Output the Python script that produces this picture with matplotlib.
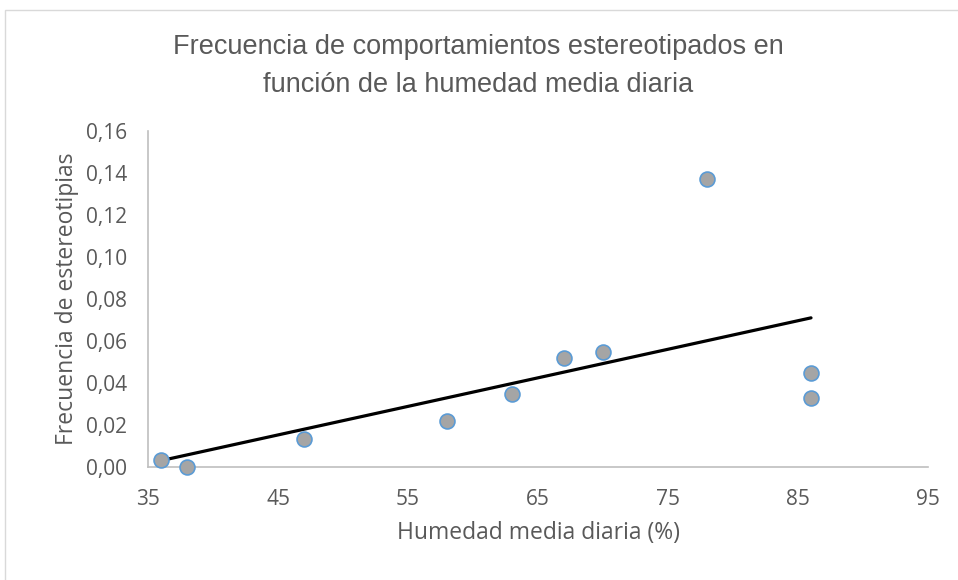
import matplotlib
matplotlib.use("Agg")
import matplotlib.pyplot as plt
from matplotlib.patches import Rectangle
from matplotlib.ticker import FuncFormatter
import numpy as np

# Humedad media diaria (%) y frecuencia de estereotipias
humedad = [36, 38, 47, 58, 63, 67, 70, 78, 86, 86]
frecuencia = [0.0035, 0.0002, 0.0135, 0.022, 0.035, 0.052, 0.055, 0.137, 0.045, 0.033]

x_ticks = [35, 45, 55, 65, 75, 85, 95]
y_ticks = [0.00, 0.02, 0.04, 0.06, 0.08, 0.10, 0.12, 0.14, 0.16]

titulo = ['Frecuencia de comportamientos estereotipados en',
          'función de la humedad media diaria']

plt.rcParams['font.family'] = ['Open Sans', 'DejaVu Sans']
text_color = '#595959'
axis_color = '#BFBFBF'

fig = plt.figure(figsize=(9.58, 5.8), dpi=100)
fig.patches.append(Rectangle((0.005, -0.05), 1.1, 1.033, transform=fig.transFigure,
                             fill=False, edgecolor='#D9D9D9', linewidth=1.0))
ax = fig.add_axes([0.1545, 0.1948, 0.8142, 0.5793])

# linear trendline (least squares)
slope, intercept = np.polyfit(humedad, frecuencia, 1)
xs = np.array([min(humedad), max(humedad)])
ax.plot(xs, slope * xs + intercept, color='black', linewidth=2.3, zorder=2,
        solid_capstyle='round')

ax.scatter(humedad, frecuencia, s=115, facecolor='#A5A5A5', edgecolor='#5B9BD5',
           linewidth=1.2, zorder=3, clip_on=False)

ax.set_xlim(35, 95)
ax.set_ylim(0, 0.16)
ax.set_xticks(x_ticks)
ax.set_yticks(y_ticks)
ax.yaxis.set_major_formatter(FuncFormatter(lambda v, p: f"{v:.2f}".replace('.', ',')))

for side in ['top', 'right']:
    ax.spines[side].set_visible(False)
for side in ['left', 'bottom']:
    ax.spines[side].set_color(axis_color)
    ax.spines[side].set_linewidth(1.2)
ax.tick_params(length=0, colors=text_color, labelsize=15)
ax.tick_params(axis='x', pad=16)
ax.tick_params(axis='y', pad=15)

ax.set_xlabel('Humedad media diaria (%)', color=text_color, fontsize=16.5, labelpad=8)
ax.set_ylabel('Frecuencia de estereotipias', color=text_color, fontsize=16.5, labelpad=5)

# two-line title, each line placed on its own
for linea, y in zip(titulo, [0.919, 0.853]):
    fig.text(0.499, y, linea, ha='center', va='center', fontsize=19.5, color=text_color,
             family=['Liberation Sans Narrow', 'Liberation Sans', 'DejaVu Sans'])

fig.savefig('out.png', dpi=100)
